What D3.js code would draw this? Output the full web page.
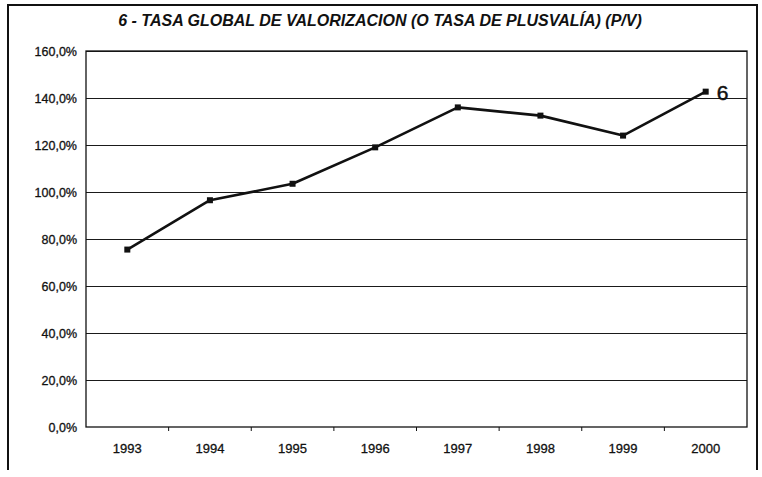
<!DOCTYPE html>
<html>
<head>
<meta charset="utf-8">
<script src="https://cdn.jsdelivr.net/npm/d3@7"></script>
<style>
  body { margin: 0; background: #fff; }
  svg { display: block; font-family: "Liberation Sans", Arial, sans-serif; }
</style>
</head>
<body>
<svg id="chart" width="762" height="477"></svg>
<script>
// ── Tasa global de valorización (P/V), 1993–2000 ──

const years  = ['1993', '1994', '1995', '1996', '1997', '1998', '1999', '2000'];
const rate   = [75.5, 96.5, 103.5, 119.0, 136.0, 132.5, 124.0, 142.7];
const yTicks = [0, 20, 40, 60, 80, 100, 120, 140, 160];
const title  = '6 - TASA GLOBAL DE VALORIZACION (O TASA DE PLUSVALÍA) (P/V)';
const seriesLabel = '6';

const svg = d3.select('#chart');
const plot = { left: 86, right: 747, top: 51, bottom: 427 };

const x = d3.scaleBand().domain(years).range([plot.left, plot.right]);
const y = d3.scaleLinear().domain([0, 160]).range([plot.bottom, plot.top]);
const fmt = v => v.toFixed(1).replace('.', ',') + '%';

// outer frame (scanned page edge)
svg.append('path')
   .attr('d', 'M8,470 L8,5 L757,5 L757,470')
   .attr('fill', 'none')
   .attr('stroke', '#111')
   .attr('stroke-width', 2);

svg.append('text')
   .attr('x', 380).attr('y', 26)
   .attr('text-anchor', 'middle')
   .attr('font-size', 16)
   .attr('font-weight', 'bold')
   .attr('font-style', 'italic')
   .attr('fill', '#111')
   .text(title);

// gridlines (half-pixel offset keeps them crisp and dark)
svg.append('g')
   .selectAll('line')
   .data(yTicks.slice(1))
   .join('line')
   .attr('x1', plot.left).attr('x2', plot.right)
   .attr('y1', d => Math.round(y(d)) + 0.5).attr('y2', d => Math.round(y(d)) + 0.5)
   .attr('stroke', '#1a1a1a')
   .attr('stroke-width', 1);

// plot frame
svg.append('rect')
   .attr('x', plot.left).attr('y', plot.top)
   .attr('width', plot.right - plot.left)
   .attr('height', plot.bottom - plot.top)
   .attr('fill', 'none')
   .attr('stroke', '#111')
   .attr('stroke-width', 1.3);

const styleText = g => g.selectAll('text')
   .attr('font-size', 12.5)
   .attr('fill', '#111')
   .attr('stroke', '#111')
   .attr('stroke-width', 0.3)
   .attr('font-family', '"Liberation Sans", Arial, sans-serif');

// y axis labels
const yAxis = d3.axisLeft(y).tickValues(yTicks).tickFormat(fmt).tickSize(0).tickPadding(9);
svg.append('g')
   .attr('transform', `translate(${plot.left},0)`)
   .call(yAxis)
   .call(g => g.select('.domain').remove())
   .call(styleText);

// x axis with ticks between categories
const xAxis = d3.axisBottom(x).tickSize(0).tickPadding(17);
svg.append('g')
   .attr('transform', `translate(0,${plot.bottom})`)
   .call(xAxis)
   .call(g => g.select('.domain').remove())
   .call(styleText)
   .call(g => g.selectAll('text').attr('font-size', 13));

svg.append('g')
   .selectAll('line')
   .data(years.slice(1))
   .join('line')
   .attr('x1', d => x(d)).attr('x2', d => x(d))
   .attr('y1', plot.bottom).attr('y2', plot.bottom + 4)
   .attr('stroke', '#111');

// series line
const pts = years.map((yr, i) => [x(yr) + x.bandwidth() / 2, y(rate[i])]);
svg.append('path')
   .attr('d', d3.line()(pts))
   .attr('fill', 'none')
   .attr('stroke', '#111')
   .attr('stroke-width', 2.6)
   .attr('stroke-linejoin', 'round');

svg.append('g')
   .selectAll('rect')
   .data(pts)
   .join('rect')
   .attr('x', d => d[0] - 3).attr('y', d => d[1] - 3)
   .attr('width', 6).attr('height', 6)
   .attr('fill', '#111');

const last = pts[pts.length - 1];
svg.append('text')
   .attr('x', last[0] + 11).attr('y', last[1] + 8)
   .attr('font-size', 21)
   .attr('fill', '#111')
   .attr('stroke', '#111')
   .attr('stroke-width', 0.5)
   .text(seriesLabel);
</script>
</body>
</html>
